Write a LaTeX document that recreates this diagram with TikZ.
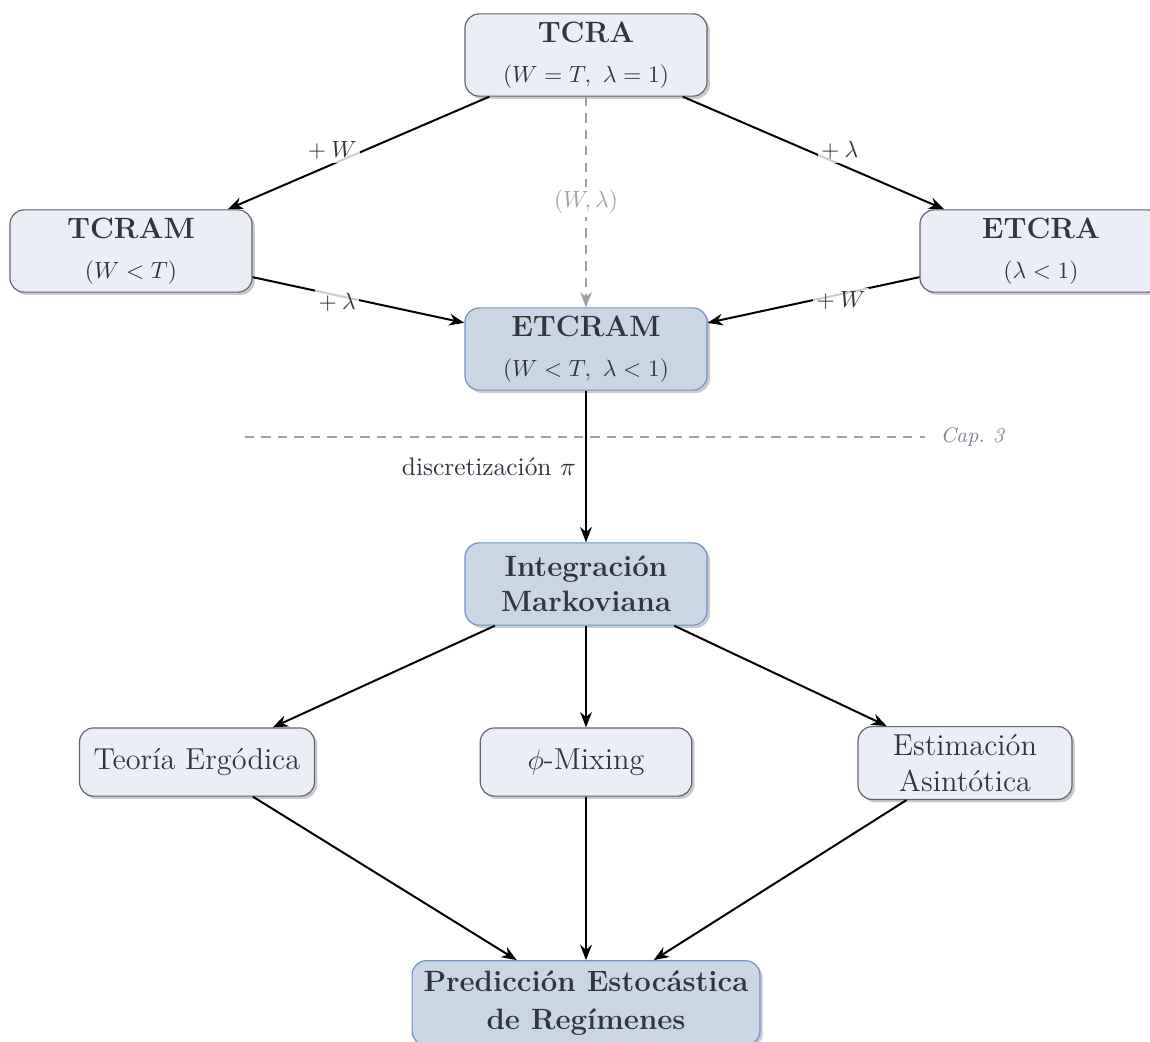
\documentclass[tikz,border=0pt]{standalone}
\usetikzlibrary{arrows.meta,shadows}
\definecolor{txt}{HTML}{2F3640}
\definecolor{lightfill}{HTML}{EBEEF4}
\definecolor{lightdraw}{HTML}{5E6472}
\definecolor{bluefill}{HTML}{CBD6E4}
\definecolor{bluedraw}{HTML}{6F93C3}
\definecolor{grayline}{HTML}{9DA2A9}
\definecolor{captxt}{HTML}{7E8591}
\tikzset{
  box/.style={rectangle, rounded corners=6pt, align=center, text=txt,
    line width=0.5pt, inner sep=2pt,
    drop shadow={shadow xshift=1.2pt, shadow yshift=-1.2pt, fill=black!45, opacity=0.45}},
  lightbox/.style={box, fill=lightfill, draw=lightdraw},
  bluebox/.style={box, fill=bluefill, draw=bluedraw},
  tip/.style={-{Stealth[length=6.5pt,width=5pt]}},
  arr/.style={tip, line width=0.85pt, black},
  lbl/.style={fill=white, fill opacity=0.8, text opacity=1, inner sep=1.5pt, text=txt},
  dashgray/.style={grayline, line width=0.6pt, dash pattern=on 4pt off 3pt},
  midfont/.style={font=\fontsize{12.9}{15.5}\selectfont}
}
\begin{document}
\begin{tikzpicture}[x=0.4255pt, y=-0.4255pt]
\useasboundingbox (0,0) rectangle (1150,1041);

\node[lightbox, minimum width=103pt, minimum height=35pt] (tcra) at (586,55)
  {{\fontsize{12.5}{15}\selectfont\bfseries TCRA}\\[5pt] $(W=T,\ \lambda=1)$};
\node[lightbox, minimum width=103pt, minimum height=35pt] (tcram) at (131,251)
  {{\fontsize{12.5}{15}\selectfont\bfseries TCRAM}\\[5pt] $(W<T)$};
\node[lightbox, minimum width=103pt, minimum height=35pt] (etcra) at (1041,251)
  {{\fontsize{12.5}{15}\selectfont\bfseries ETCRA}\\[5pt] $(\lambda<1)$};
\node[bluebox, minimum width=103pt, minimum height=35pt] (etcram) at (586,349)
  {{\fontsize{12.5}{15}\selectfont\bfseries ETCRAM}\\[5pt] $(W<T,\ \lambda<1)$};
\node[bluebox, minimum width=103pt, minimum height=35pt, font=\fontsize{12.5}{15}\selectfont\bfseries] (im) at (586,584)
  {Integración\\ Markoviana};
\node[lightbox, minimum width=100pt, minimum height=29pt, midfont] (te) at (197,762)
  {Teoría Ergódica};
\node[lightbox, minimum width=90pt, minimum height=29pt, midfont] (mix) at (586,762)
  {$\phi$-Mixing};
\node[lightbox, minimum width=91pt, minimum height=31pt, midfont] (ea) at (965,763)
  {Estimación\\ Asintótica};
\node[bluebox, minimum width=148pt, minimum height=36pt, font=\fontsize{12.5}{16}\selectfont\bfseries] (pred) at (586,1003)
  {Predicción Estocástica\\ de Regímenes};

\draw[arr] (tcra) -- node[lbl, pos=0.6, above] {$+\:W$} (tcram);
\draw[arr] (tcra) -- node[lbl, pos=0.6, above] {$+\:\lambda$} (etcra);
\draw[dashgray, tip] (tcra) -- node[fill=white, inner sep=1.5pt, text=captxt!75] {$(W,\lambda)$} (etcram);
\draw[arr] (tcram) -- node[lbl, pos=0.4, below, yshift=3pt] {$+\:\lambda$} (etcram);
\draw[arr] (etcra) -- node[lbl, pos=0.37, below, yshift=3pt] {$+\:W$} (etcram);

\coordinate (capL) at (245,437);
\coordinate (capR) at (925,437);
\draw[dashgray] (capL) -- (capR) node[right, text=captxt, font=\small\itshape, xshift=3pt] (cap) {Cap.\ 3};

\draw[arr] (etcram) -- node[left, text=txt, inner sep=4pt, font=\fontsize{10.8}{13}\selectfont] {discretización $\pi$} (im);

\draw[arr] (im) -- (te);
\draw[arr] (im) -- (mix);
\draw[arr] (im) -- (ea);
\draw[arr] (te) -- (pred);
\draw[arr] (mix) -- (pred);
\draw[arr] (ea) -- (pred);
\end{tikzpicture}
\end{document}
